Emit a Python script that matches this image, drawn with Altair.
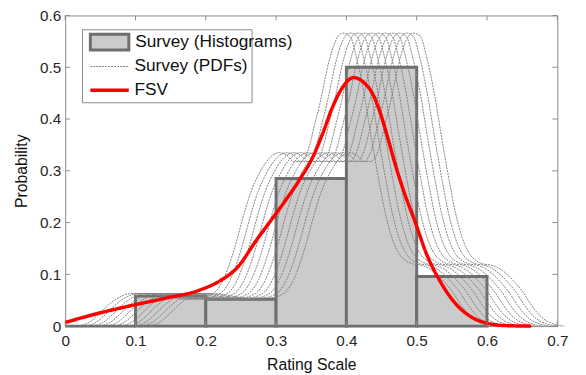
import altair as alt
import pandas as pd

# ---------------- data ----------------
series_names = ["Survey (Histograms)", "Survey (PDFs)", "FSV"]
stroke_colors = ["#6e6e6e", "#808080", "#ff0000"]
stroke_widths = [3, 1, 3.5]
stroke_dashes = [[1, 0], [2, 1], [1, 0]]
hist_fill = "#cbcbcb"

# histogram bins
bin_start = [0.0, 0.1, 0.2, 0.3, 0.4, 0.5]
bin_end = [0.1, 0.2, 0.3, 0.4, 0.5, 0.6]
bin_prob = [0.0, 0.058, 0.052, 0.285, 0.500, 0.096]

# leftmost survey PDF curve
pdf_x = [0.020, 0.035, 0.050, 0.065, 0.080, 0.095, 0.110, 0.130, 0.150, 0.170,
         0.190, 0.205, 0.215, 0.225, 0.235, 0.245, 0.255, 0.265, 0.275, 0.285,
         0.295, 0.305, 0.315, 0.325, 0.335, 0.345, 0.355, 0.363, 0.375, 0.385,
         0.395, 0.405, 0.415, 0.425, 0.435, 0.446, 0.455, 0.465, 0.475, 0.485,
         0.495, 0.505, 0.515, 0.527, 0.540, 0.551, 0.562, 0.574, 0.585, 0.595,
         0.610]
pdf_y = [0.000, 0.008, 0.026, 0.045, 0.058, 0.063, 0.063, 0.060, 0.055, 0.052,
         0.054, 0.059, 0.068, 0.090, 0.125, 0.170, 0.220, 0.262, 0.292, 0.315,
         0.330, 0.335, 0.330, 0.318, 0.318, 0.338, 0.390, 0.434, 0.510, 0.552,
         0.566, 0.560, 0.515, 0.450, 0.368, 0.283, 0.220, 0.170, 0.140, 0.126,
         0.120, 0.118, 0.113, 0.102, 0.084, 0.066, 0.043, 0.022, 0.010, 0.004,
         0.000]
# horizontal positions of the individual survey PDFs relative to the leftmost
pdf_shift = [0.00, 0.01, 0.02, 0.03, 0.04, 0.05, 0.06, 0.07, 0.08, 0.09, 0.10]

# FSV curve
fsv_x = [0.000, 0.045, 0.095, 0.143, 0.190, 0.222, 0.244, 0.272, 0.298, 0.314,
         0.333, 0.352, 0.366, 0.380, 0.394, 0.410, 0.426, 0.438, 0.451, 0.460,
         0.470, 0.483, 0.4965, 0.515, 0.534, 0.553, 0.576, 0.599, 0.627, 0.663]
fsv_y = [0.007, 0.024, 0.040, 0.054, 0.069, 0.089, 0.112, 0.166, 0.214, 0.244,
         0.282, 0.326, 0.371, 0.422, 0.460, 0.480, 0.469, 0.447, 0.400, 0.358,
         0.310, 0.255, 0.206, 0.136, 0.085, 0.047, 0.019, 0.006, 0.001, 0.000]

x_ticks = [0, 0.1, 0.2, 0.3, 0.4, 0.5, 0.6, 0.7]
y_ticks = [0, 0.1, 0.2, 0.3, 0.4, 0.5, 0.6]

assert len(pdf_x) == len(pdf_y)
assert len(fsv_x) == len(fsv_y)

# ---------------- tables ----------------
hist_df = pd.DataFrame({"x0": bin_start, "x1": bin_end, "p": bin_prob,
                        "series": series_names[0]})
rows = []
for k, s in enumerate(pdf_shift):
    for xv, yv in zip(pdf_x, pdf_y):
        rows.append({"curve": k, "x": round(xv + s, 4), "p": yv,
                     "series": series_names[1]})
pdf_df = pd.DataFrame(rows)
fsv_df = pd.DataFrame({"x": fsv_x, "p": fsv_y, "series": series_names[2]})
xt_df = pd.DataFrame({"t": x_ticks})
yt_df = pd.DataFrame({"t": y_ticks})

FONT = "Liberation Sans"
W, H = 499, 315
FRAME = "#8a8a8a"
TEXT = "#111111"
RECT_PATH = "M-1.95,-0.8H1.95V0.8H-1.95Z"
LINE_PATH = "M-1.95,0H1.95"

xs = alt.Scale(domain=[0, 0.7], nice=False, zero=False)
ys = alt.Scale(domain=[0, 0.6], nice=False, zero=False)

x_axis = alt.Axis(values=x_ticks, format="~g", title="Rating Scale",
                  labelPadding=8, titleY=44, titleBaseline="alphabetic",
                  labelFlush=False, labelOverlap=False)
y_axis = alt.Axis(values=y_ticks, format="~g", title="Probability",
                  labelPadding=4.5, titleX=-44, titleY=H / 2,
                  titleBaseline="middle", labelFlush=False, labelOverlap=False)

# legend for the line-like entries (owns the frame); its first row is a
# blank placeholder of the same width as the histogram label drawn over it
leg_b = alt.Legend(title=None, orient="none", legendX=17, legendY=14, padding=3.75,
                   rowPadding=3.5, strokeColor=FRAME, fillColor="white",
                   labelFont=FONT, labelFontSize=17.5, labelColor=TEXT,
                   labelLimit=400, symbolType=LINE_PATH, symbolSize=400,
                   symbolOffset=12.25, labelOffset=13.25, zindex=1,
                   labelExpr="datum.value === 'Survey (Histograms)' ? "
                             "pad('', 33, '\u00a0') : datum.label")
# legend for the histogram patch, laid over the first row
leg_a = alt.Legend(title=None, orient="none", legendX=20.5, legendY=15.5, padding=0,
                   labelFont=FONT, labelFontSize=17.5, labelColor=TEXT,
                   labelLimit=400, symbolType=RECT_PATH, symbolSize=400,
                   symbolStrokeColor=stroke_colors[0], symbolStrokeWidth=3,
                   symbolOffset=13, labelOffset=14.5, zindex=2)

stroke_enc = alt.Stroke("series:N",
                        scale=alt.Scale(domain=series_names, range=stroke_colors),
                        legend=leg_b)
sw_enc = alt.StrokeWidth("series:N",
                         scale=alt.Scale(type="ordinal", domain=series_names,
                                         range=stroke_widths),
                         legend=leg_b)
dash_enc = alt.StrokeDash("series:N",
                          scale=alt.Scale(domain=series_names, range=stroke_dashes),
                          legend=leg_b)
fill_enc = alt.Fill("series:N",
                    scale=alt.Scale(domain=[series_names[0]], range=[hist_fill]),
                    legend=leg_a)

bars = alt.Chart(hist_df).mark_rect().encode(
    x=alt.X("x0:Q", scale=xs, axis=x_axis),
    x2="x1:Q",
    y=alt.Y("p:Q", scale=ys, axis=y_axis),
    y2=alt.datum(0),
    fill=fill_enc,
    stroke=stroke_enc,
    strokeWidth=sw_enc,
)
pdfs = alt.Chart(pdf_df).mark_line(interpolate="monotone").encode(
    x=alt.X("x:Q", scale=xs, axis=x_axis),
    y=alt.Y("p:Q", scale=ys, axis=y_axis),
    detail="curve:N",
    order="x:Q",
    stroke=stroke_enc,
    strokeWidth=sw_enc,
    strokeDash=dash_enc,
)
fsv = alt.Chart(fsv_df).mark_line(interpolate="monotone").encode(
    x=alt.X("x:Q", scale=xs, axis=x_axis),
    y=alt.Y("p:Q", scale=ys, axis=y_axis),
    order="x:Q",
    stroke=stroke_enc,
    strokeWidth=sw_enc,
    strokeDash=dash_enc,
)
tb = alt.Chart(xt_df).mark_rule(color=FRAME, strokeWidth=1).encode(
    x=alt.X("t:Q", scale=xs, axis=x_axis), y=alt.value(H), y2=alt.value(H - 5))
tt = alt.Chart(xt_df).mark_rule(color=FRAME, strokeWidth=1).encode(
    x=alt.X("t:Q", scale=xs, axis=x_axis), y=alt.value(0), y2=alt.value(5))
tl = alt.Chart(yt_df).mark_rule(color=FRAME, strokeWidth=1).encode(
    y=alt.Y("t:Q", scale=ys, axis=y_axis), x=alt.value(0), x2=alt.value(5))
tr = alt.Chart(yt_df).mark_rule(color=FRAME, strokeWidth=1).encode(
    y=alt.Y("t:Q", scale=ys, axis=y_axis), x=alt.value(W), x2=alt.value(W - 5))

chart = alt.layer(bars, pdfs, fsv, tb, tt, tl, tr).properties(
    width=W, height=H,
    padding={"left": 58, "top": 5, "right": 21, "bottom": 47},
    autosize=alt.AutoSizeParams(type="none"),
    background="white",
).configure_view(
    stroke=FRAME, strokeWidth=1
).configure_axis(
    labelFont=FONT, titleFont=FONT, labelFontSize=15.5, titleFontSize=16,
    titleFontWeight="normal", labelColor="#262626", titleColor=TEXT,
    grid=False, domain=False, ticks=False,
)

chart.save("out.html", embed_options={"renderer": "svg", "actions": False})
